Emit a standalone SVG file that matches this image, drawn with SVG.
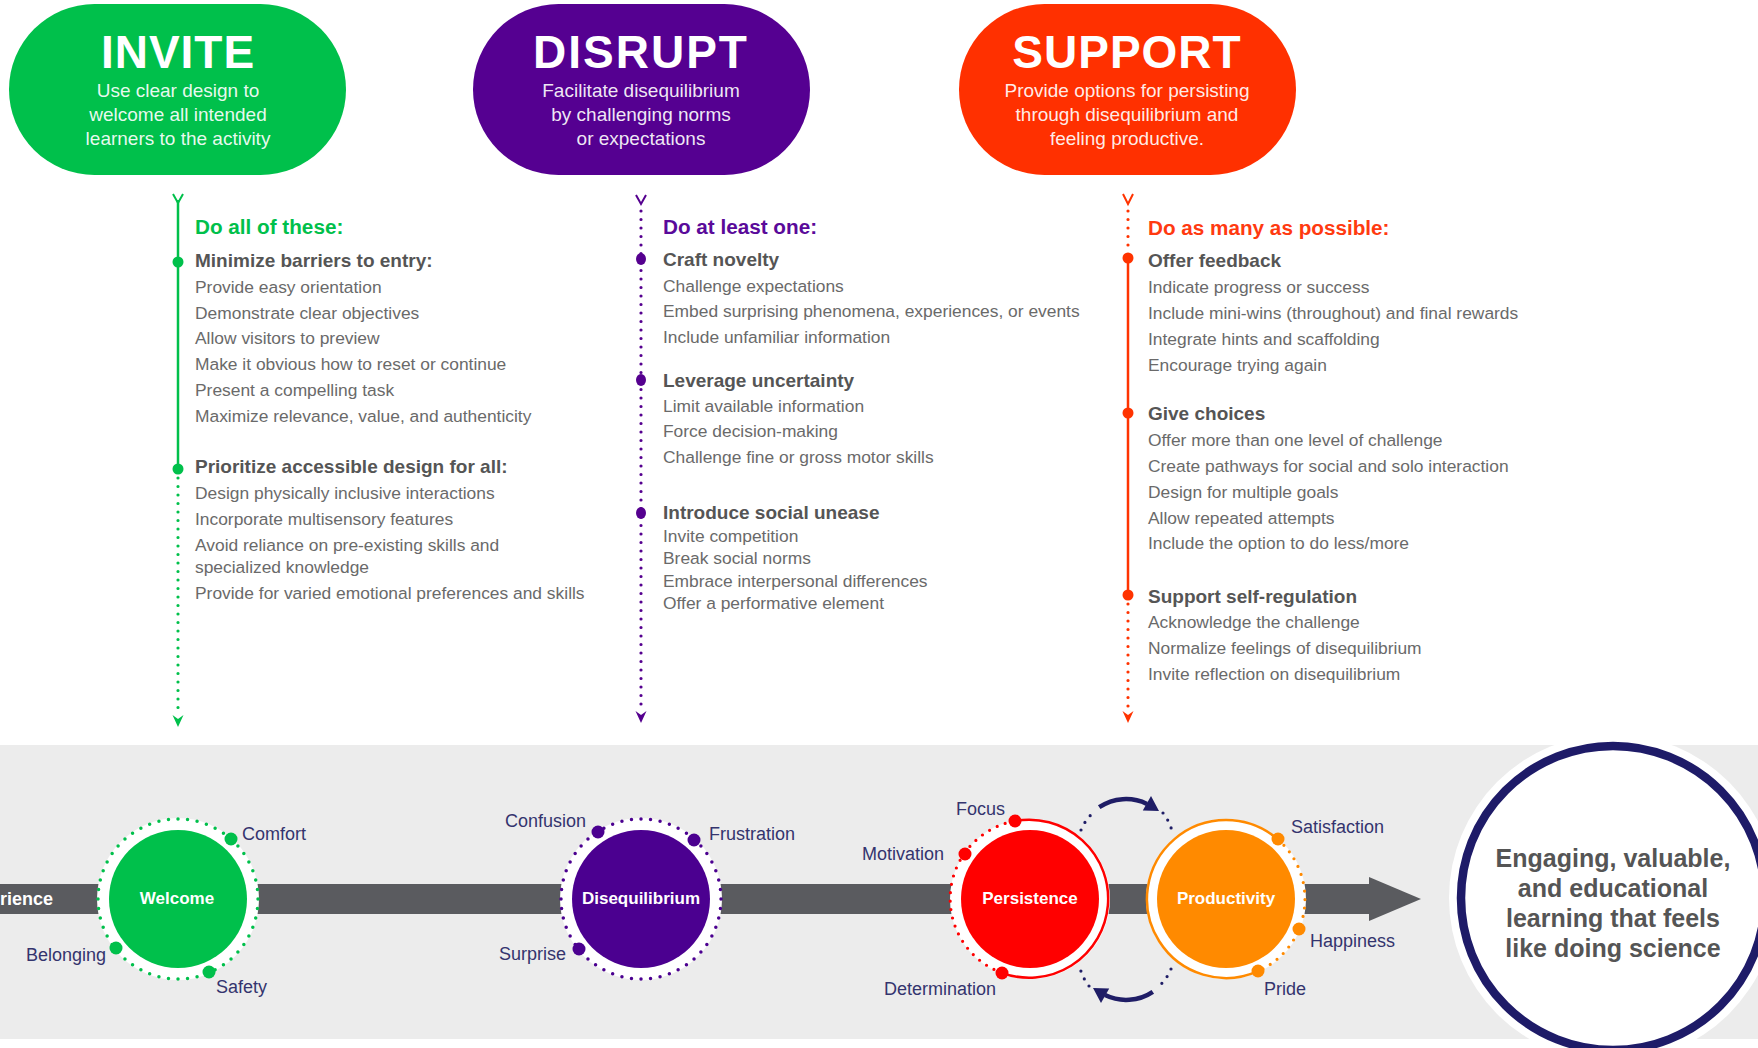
<svg xmlns="http://www.w3.org/2000/svg" width="1758" height="1048" viewBox="0 0 1758 1048">
<defs>
<style>
text{font-family:"Liberation Sans",Arial,sans-serif}
.title{font-size:46px;font-weight:bold;fill:#fff;text-anchor:middle;letter-spacing:1px}
.sub{font-size:19px;fill:#fff;fill-opacity:0.92;text-anchor:middle}
.hd{font-size:20.7px;font-weight:bold}
.bh{font-size:19px;font-weight:bold;fill:#555}
.it{font-size:17.4px;fill:#6a6a6a}
.lbl{font-size:18px;fill:#34346e}
.cn{font-size:17px;font-weight:bold;fill:#fff;text-anchor:middle}
.dots{fill:none;stroke-linecap:round;stroke-width:3.2;stroke-dasharray:0 8.5}
.solid{fill:none;stroke-width:2.5}
.big{font-size:25px;font-weight:bold;fill:#555;text-anchor:middle}
</style>
</defs>
<rect width="1758" height="1048" fill="#fff"/>

<!-- pills -->
<g id="node-invite">
<rect x="9" y="4" width="337" height="171" rx="85.5" fill="#00c04b"/>
<text class="title" x="178" y="68">INVITE</text>
<text class="sub" x="178" y="97">Use clear design to</text>
<text class="sub" x="178" y="121">welcome all intended</text>
<text class="sub" x="178" y="145">learners to the activity</text>
</g>
<g id="node-disrupt">
<rect x="473" y="4" width="337" height="171" rx="85.5" fill="#550091"/>
<text class="title" x="641" y="68" style="letter-spacing:2px">DISRUPT</text>
<text class="sub" x="641" y="97">Facilitate disequilibrium</text>
<text class="sub" x="641" y="121">by challenging norms</text>
<text class="sub" x="641" y="145">or expectations</text>
</g>
<g id="node-support">
<rect x="959" y="4" width="337" height="171" rx="85.5" fill="#ff3000"/>
<text class="title" x="1127" y="68">SUPPORT</text>
<text class="sub" x="1127" y="97">Provide options for persisting</text>
<text class="sub" x="1127" y="121">through disequilibrium and</text>
<text class="sub" x="1127" y="145">feeling productive.</text>
</g>

<!-- vertical connectors -->
<g id="connectors">
<g stroke="#00c04b" fill="#00c04b">
<path d="M173,194 L178,203 L183,194" fill="none" stroke-width="2"/>
<line x1="178" y1="200" x2="178" y2="469" stroke-width="2.5"/>
<line x1="178" y1="478" x2="178" y2="712" class="dots" stroke="#00c04b"/>
<path d="M172.5,715 L178,727 L183.5,715 L178,719 Z" stroke="none"/>
<circle cx="178" cy="262" r="5.5" stroke="none"/>
<circle cx="178" cy="469" r="5.5" stroke="none"/>
</g>
<g stroke="#55008f" fill="#55008f">
<path d="M636,195 L641,204 L646,195" fill="none" stroke-width="2"/>
<line x1="641" y1="211" x2="641" y2="708" class="dots" stroke="#55008f"/>
<path d="M635.5,711 L641,723 L646.5,711 L641,715 Z" stroke="none"/>
<ellipse cx="641" cy="259" rx="5" ry="6" stroke="none"/>
<ellipse cx="641" cy="380" rx="5" ry="6" stroke="none"/>
<ellipse cx="641" cy="513" rx="5" ry="6" stroke="none"/>
</g>
<g stroke="#ff3300" fill="#ff3300">
<path d="M1123,194 L1128,204 L1133,194" fill="none" stroke-width="2"/>
<line x1="1128" y1="211" x2="1128" y2="250" class="dots" stroke="#ff3300"/>
<line x1="1128" y1="258" x2="1128" y2="595" stroke-width="2.5"/>
<line x1="1128" y1="604" x2="1128" y2="708" class="dots" stroke="#ff3300"/>
<path d="M1122.5,711 L1128,723 L1133.5,711 L1128,715 Z" stroke="none"/>
<circle cx="1128" cy="258" r="5.5" stroke="none"/>
<circle cx="1128" cy="413" r="5.5" stroke="none"/>
<circle cx="1128" cy="595" r="5.5" stroke="none"/>
</g>
</g>

<!-- columns text -->
<g id="node-invite-list">
<text class="hd" x="195" y="234" fill="#00c04b">Do all of these:</text>
<text class="bh" x="195" y="267">Minimize barriers to entry:</text>
<text class="it" x="195" y="293">Provide easy orientation</text>
<text class="it" x="195" y="319">Demonstrate clear objectives</text>
<text class="it" x="195" y="344">Allow visitors to preview</text>
<text class="it" x="195" y="370">Make it obvious how to reset or continue</text>
<text class="it" x="195" y="396">Present a compelling task</text>
<text class="it" x="195" y="422">Maximize relevance, value, and authenticity</text>
<text class="bh" x="195" y="473">Prioritize accessible design for all:</text>
<text class="it" x="195" y="499">Design physically inclusive interactions</text>
<text class="it" x="195" y="525">Incorporate multisensory features</text>
<text class="it" x="195" y="551">Avoid reliance on pre-existing skills and</text>
<text class="it" x="195" y="573">specialized knowledge</text>
<text class="it" x="195" y="599">Provide for varied emotional preferences and skills</text>
</g>
<g id="node-disrupt-list">
<text class="hd" x="663" y="234" fill="#5a0a9a">Do at least one:</text>
<text class="bh" x="663" y="266">Craft novelty</text>
<text class="it" x="663" y="292">Challenge expectations</text>
<text class="it" x="663" y="317">Embed surprising phenomena, experiences, or events</text>
<text class="it" x="663" y="343">Include unfamiliar information</text>
<text class="bh" x="663" y="387">Leverage uncertainty</text>
<text class="it" x="663" y="412">Limit available information</text>
<text class="it" x="663" y="437">Force decision-making</text>
<text class="it" x="663" y="463">Challenge fine or gross motor skills</text>
<text class="bh" x="663" y="519">Introduce social unease</text>
<text class="it" x="663" y="542">Invite competition</text>
<text class="it" x="663" y="564">Break social norms</text>
<text class="it" x="663" y="587">Embrace interpersonal differences</text>
<text class="it" x="663" y="609">Offer a performative element</text>
</g>
<g id="node-support-list">
<text class="hd" x="1148" y="235" fill="#ff3a10">Do as many as possible:</text>
<text class="bh" x="1148" y="267">Offer feedback</text>
<text class="it" x="1148" y="293">Indicate progress or success</text>
<text class="it" x="1148" y="319">Include mini-wins (throughout) and final rewards</text>
<text class="it" x="1148" y="345">Integrate hints and scaffolding</text>
<text class="it" x="1148" y="371">Encourage trying again</text>
<text class="bh" x="1148" y="420">Give choices</text>
<text class="it" x="1148" y="446">Offer more than one level of challenge</text>
<text class="it" x="1148" y="472">Create pathways for social and solo interaction</text>
<text class="it" x="1148" y="498">Design for multiple goals</text>
<text class="it" x="1148" y="524">Allow repeated attempts</text>
<text class="it" x="1148" y="549">Include the option to do less/more</text>
<text class="bh" x="1148" y="603">Support self-regulation</text>
<text class="it" x="1148" y="628">Acknowledge the challenge</text>
<text class="it" x="1148" y="654">Normalize feelings of disequilibrium</text>
<text class="it" x="1148" y="680">Invite reflection on disequilibrium</text>
</g>

<!-- bottom band -->
<rect x="0" y="745" width="1758" height="294" fill="#ececec"/>
<g id="flow-arrow">
<rect x="0" y="884" width="1370" height="30" fill="#5a5b5f"/>
<polygon points="1369,877 1421,899 1369,921" fill="#5a5b5f"/>
<text x="0" y="905" font-size="18" font-weight="bold" fill="#fff">rience</text>
</g>

<g id="node-welcome">
<circle cx="178" cy="899" r="81" fill="#fff"/>
<circle cx="178" cy="899" r="80" fill="none" stroke="#00c04b" stroke-width="3.5" stroke-linecap="round" stroke-dasharray="0 1" pathLength="52"/>
<circle cx="178" cy="899" r="69" fill="#00c04b"/>
<circle cx="231" cy="839" r="6.5" fill="#00c04b"/>
<circle cx="116" cy="948" r="6.5" fill="#00c04b"/>
<circle cx="209" cy="972" r="6.5" fill="#00c04b"/>
<text class="cn" x="177" y="904">Welcome</text>
<text class="lbl" x="242" y="840">Comfort</text>
<text class="lbl" x="106" y="961" text-anchor="end">Belonging</text>
<text class="lbl" x="216" y="993">Safety</text>
</g>

<g id="node-disequilibrium">
<circle cx="641" cy="899" r="81" fill="#fff"/>
<circle cx="641" cy="899" r="80" fill="none" stroke="#4b0090" stroke-width="3.5" stroke-linecap="round" stroke-dasharray="0 1" pathLength="52"/>
<circle cx="641" cy="899" r="69" fill="#4b0090"/>
<circle cx="598" cy="832" r="6.5" fill="#4b0090"/>
<circle cx="694" cy="840" r="6.5" fill="#4b0090"/>
<circle cx="579" cy="949" r="6.5" fill="#4b0090"/>
<text class="cn" x="641" y="904">Disequilibrium</text>
<text class="lbl" x="586" y="827" text-anchor="end">Confusion</text>
<text class="lbl" x="709" y="840">Frustration</text>
<text class="lbl" x="566" y="960" text-anchor="end">Surprise</text>
</g>

<g id="node-persistence">
<circle cx="1030" cy="899" r="80" fill="#fff"/>
<path d="M1015,821 A79 79 0 1 1 1001.7,972.8" class="solid" stroke="#ff0000"/>
<path d="M1001.7,972.8 A79 79 0 0 1 1015,821" class="dots" stroke="#ff0000" stroke-dasharray="0 9.5"/>
<circle cx="1030" cy="899" r="69" fill="#ff0000"/>
<circle cx="1015" cy="821" r="6.5" fill="#ff0000"/>
<circle cx="965" cy="854" r="6.5" fill="#ff0000"/>
<circle cx="1002" cy="973" r="6.5" fill="#ff0000"/>
<text class="cn" x="1030" y="904">Persistence</text>
<text class="lbl" x="1005" y="815" text-anchor="end">Focus</text>
<text class="lbl" x="944" y="860" text-anchor="end">Motivation</text>
<text class="lbl" x="996" y="995" text-anchor="end">Determination</text>
</g>

<g id="node-productivity">
<circle cx="1226" cy="899" r="80" fill="#fff"/>
<path d="M1258.1,971.2 A79 79 0 1 1 1277.8,839.4" class="solid" stroke="#ff8a00"/>
<path d="M1277.8,839.4 A79 79 0 0 1 1258.1,971.2" class="dots" stroke="#ff8a00" stroke-dasharray="0 9.5"/>
<circle cx="1226" cy="899" r="69" fill="#ff8a00"/>
<circle cx="1278" cy="839" r="6.5" fill="#ff8a00"/>
<circle cx="1299" cy="929" r="6.5" fill="#ff8a00"/>
<circle cx="1258" cy="971" r="6.5" fill="#ff8a00"/>
<text class="cn" x="1226" y="904">Productivity</text>
<text class="lbl" x="1291" y="833">Satisfaction</text>
<text class="lbl" x="1310" y="947">Happiness</text>
<text class="lbl" x="1264" y="995">Pride</text>
</g>

<g id="cycle-arrows" fill="#1f1d66" stroke="#1f1d66">
<g id="cycle-top">
<path d="M1081,830 A48 48 0 0 1 1094,812" class="dots" stroke-dasharray="0 7"/>
<path d="M1099.2,807.2 A48 48 0 0 1 1147,803.9" fill="none" stroke-width="4.5"/>
<polygon points="1151,796 1159,811 1142.8,810.5" stroke="none"/>
<path d="M1163,813 A48 48 0 0 1 1172,831" class="dots" stroke-dasharray="0 7"/>
</g>
<g id="cycle-bottom" transform="rotate(180 1126 899.5)">
<path d="M1081,830 A48 48 0 0 1 1094,812" class="dots" stroke-dasharray="0 7"/>
<path d="M1099.2,807.2 A48 48 0 0 1 1147,803.9" fill="none" stroke-width="4.5"/>
<polygon points="1151,796 1159,811 1142.8,810.5" stroke="none"/>
<path d="M1163,813 A48 48 0 0 1 1172,831" class="dots" stroke-dasharray="0 7"/>
</g>
</g>

<g id="node-outcome">
<circle cx="1613" cy="898" r="164" fill="#fff"/>
<circle cx="1613" cy="898" r="152" fill="#fff" stroke="#1e1b68" stroke-width="8.5"/>
<text class="big" x="1613" y="867">Engaging, valuable,</text>
<text class="big" x="1613" y="897">and educational</text>
<text class="big" x="1613" y="927">learning that feels</text>
<text class="big" x="1613" y="957">like doing science</text>
</g>
</svg>
